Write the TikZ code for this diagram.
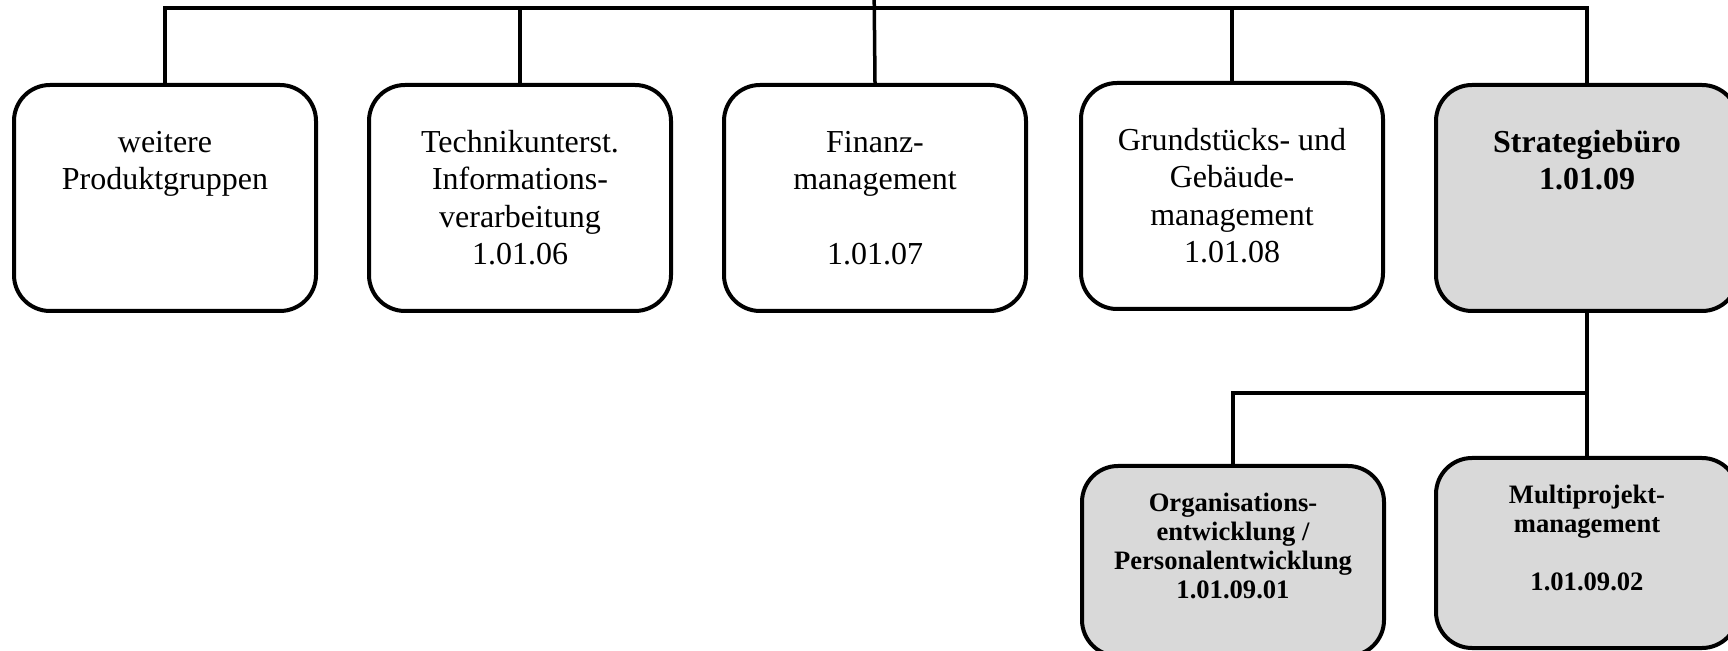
\documentclass[tikz,border=0pt]{standalone}
\usepackage{fontspec}
\setmainfont{Liberation Serif}
\begin{document}
\begin{tikzpicture}[x=0.5pt,y=-0.5pt,
    orgbox/.style={draw,line width=2pt,rounded corners=18pt,inner sep=0pt,
      execute at begin node={\begin{minipage}[c][113pt][t]{151pt}\centering\fontsize{16}{18.75}\selectfont\vspace*{20.4pt}\strut},
      execute at end node={\end{minipage}}},
    subbox/.style={draw,line width=2pt,rounded corners=18pt,inner sep=0pt,fill=black!15,
      execute at begin node={\begin{minipage}[c][95pt][t]{151pt}\centering\fontsize{13.3}{14.5}\selectfont\bfseries\vspace*{12.6pt}\strut},
      execute at end node={\end{minipage}}},
    staff/.style={fill=black!15},
    link/.style={line width=1.75pt}]
    \useasboundingbox (0,0) rectangle (1728,651);
    \clip (0,0) rectangle (1728,651);
    \node[orgbox] (pg) at (165,198) {weitere\\Produktgruppen};
    \node[orgbox] (ti) at (520,198) {Technikunterst.\\Informations-\\verarbeitung\\1.01.06};
    \node[orgbox] (fm) at (875,198) {Finanz-\\management\\ \strut\\1.01.07};
    \node[orgbox] (gg) at (1232,196) {Grundstücks- und\\Gebäude-\\management\\1.01.08};
    \node[orgbox,staff] (sb) at (1587,198) {\bfseries Strategiebüro\\1.01.09};
    \node[subbox] (oe) at (1233,561) {Organisations-\\entwicklung /\\Personalentwicklung\\1.01.09.01};
    \node[subbox] (mp) at (1587,553) {Multiprojekt-\\management\\ \strut\\1.01.09.02};
    \coordinate (parent) at (874,-20);
    \coordinate (bus) at (874,8);
    \coordinate (split) at (1587,393);
    \draw[link] (parent) -- (fm.north);
    \draw[link] (pg.north) |- (bus) -| (sb.north);
    \foreach \n in {ti,gg}
      \draw[link] (\n.north) -- (\n.north |- bus);
    \draw[link] (sb.south) -- (mp.north);
    \draw[link] (split) -| (oe.north);
\end{tikzpicture}
\end{document}
